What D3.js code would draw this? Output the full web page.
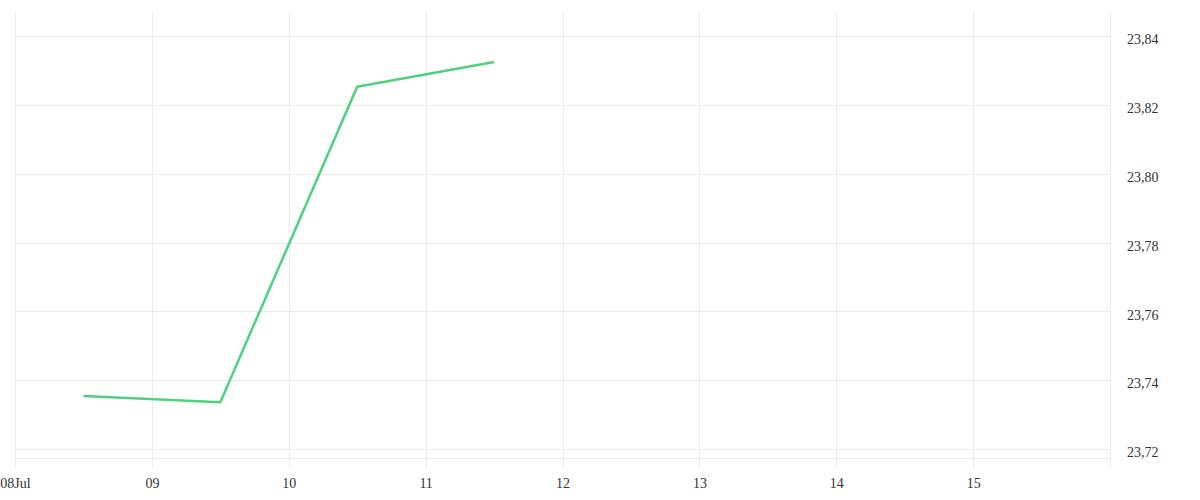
<!DOCTYPE html>
<html>
<head>
<meta charset="utf-8">
<script src="https://cdn.jsdelivr.net/npm/d3@7"></script>
<style>
    body { margin: 0; background: #fff; }
    .grid line { stroke: #ebebeb; stroke-width: 1; }
</style>
</head>
<body>
<div id="chart"></div>
<script>
// Series (one point per day at noon)
const dates = ["2024-07-08T12:00", "2024-07-09T12:00", "2024-07-10T12:00", "2024-07-11T12:00"];
const values = [23.7354, 23.7336, 23.8253, 23.8325];

// Axis ticks
const xTicks = ["2024-07-08", "2024-07-09", "2024-07-10", "2024-07-11", "2024-07-12", "2024-07-13", "2024-07-14", "2024-07-15", "2024-07-16"];
const xTickLabels = ["08Jul", "09", "10", "11", "12", "13", "14", "15", ""];
const yTicks = [23.72, 23.74, 23.76, 23.78, 23.80, 23.82, 23.84];
const yDomain = [23.7174, 23.8470];

const parse = d3.timeParse("%Y-%m-%dT%H:%M");
const parseDay = d3.timeParse("%Y-%m-%d");
const data = dates.map((d, i) => ({date: parse(d), value: values[i]}));
const tickDates = xTicks.map(parseDay);

const margin = {top: 12, right: 90, bottom: 42, left: 15};
const width = 1200 - margin.left - margin.right;
const height = 500 - margin.top - margin.bottom;

const svg = d3.select("#chart")
    .append("svg")
    .attr("width", 1200)
    .attr("height", 500)
    .append("g")
    .attr("transform", `translate(${margin.left},${margin.top})`);

const xScale = d3.scaleTime()
    .domain([tickDates[0], tickDates[tickDates.length - 1]])
    .range([0, width]);

const yScale = d3.scaleLinear()
    .domain(yDomain)
    .range([height, 0]);

// horizontal grid
const grid = svg.append("g").attr("class", "grid");
grid.selectAll("line.h")
    .data(yTicks)
    .enter()
    .append("line")
    .attr("x1", 0)
    .attr("x2", width)
    .attr("y1", d => Math.round(yScale(d)) + 0.5)
    .attr("y2", d => Math.round(yScale(d)) + 0.5);

// bottom line
grid.append("line")
    .attr("x1", 0)
    .attr("x2", width)
    .attr("y1", height + 0.5)
    .attr("y2", height + 0.5);

// vertical grid, running a bit below the plot
grid.selectAll("line.v")
    .data(tickDates)
    .enter()
    .append("line")
    .attr("x1", d => Math.round(xScale(d)) + 0.5)
    .attr("x2", d => Math.round(xScale(d)) + 0.5)
    .attr("y1", 0)
    .attr("y2", height + 10);

// x axis labels
const xAxis = d3.axisBottom(xScale)
    .tickValues(tickDates)
    .tickSize(0)
    .tickPadding(20)
    .tickFormat((d, i) => xTickLabels[i]);

svg.append("g")
    .attr("transform", `translate(0,${height})`)
    .call(xAxis)
    .call(g => g.select(".domain").remove())
    .attr("font-family", "Liberation Serif")
    .attr("font-size", 14)
    .selectAll("text")
    .attr("fill", "#333");

// y axis labels on the right
const yAxis = d3.axisRight(yScale)
    .tickValues(yTicks)
    .tickSize(0)
    .tickPadding(17)
    .tickFormat(d => d3.format(".2f")(d).replace(".", ","));

svg.append("g")
    .attr("transform", `translate(${width},0)`)
    .call(yAxis)
    .call(g => g.select(".domain").remove())
    .attr("font-family", "Liberation Serif")
    .attr("font-size", 14)
    .selectAll("text")
    .attr("fill", "#333")
    .attr("dy", "0.55em");

// line
const line = d3.line()
    .x(d => xScale(d.date))
    .y(d => yScale(d.value));

svg.append("path")
    .datum(data)
    .attr("fill", "none")
    .attr("stroke", "#4fd17e")
    .attr("stroke-width", 2.5)
    .attr("stroke-linejoin", "round")
    .attr("d", line);
</script>
</body>
</html>
